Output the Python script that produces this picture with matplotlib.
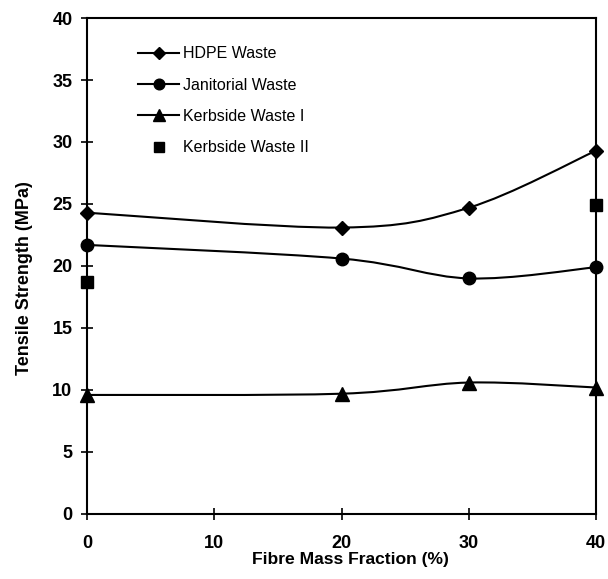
import numpy as np
import matplotlib
matplotlib.use("Agg")
import matplotlib.pyplot as plt
from matplotlib.path import Path
from matplotlib.patches import PathPatch
from matplotlib.lines import Line2D

plt.rcParams["font.family"] = ["Liberation Sans", "DejaVu Sans"]

FIBRE = [0, 20, 30, 40]
HDPE = [24.3, 23.1, 24.7, 29.3]
JANITORIAL = [21.7, 20.6, 19.0, 19.9]
KERBSIDE_I = [9.6, 9.7, 10.6, 10.2]
FIBRE_II = [0, 40]
KERBSIDE_II = [18.7, 24.9]


def smooth_path(xs, ys, t=1 / 6):
    # Catmull-Rom style bezier through the points, like a spreadsheet "smoothed line"
    pts = np.column_stack([xs, ys]).astype(float)
    verts = [pts[0]]
    codes = [Path.MOVETO]
    n = len(pts)
    for i in range(n - 1):
        p0 = pts[max(i - 1, 0)]
        p1 = pts[i]
        p2 = pts[i + 1]
        p3 = pts[min(i + 2, n - 1)]
        c1 = p1 + (p2 - p0) * t
        c2 = p2 - (p3 - p1) * t
        verts += [c1, c2, p2]
        codes += [Path.CURVE4] * 3
    return Path(verts, codes)


fig = plt.figure(figsize=(6.08, 5.79), dpi=100)
ax = fig.add_axes([0.1431, 0.1123, 0.8372, 0.8566])

series = [
    ("HDPE Waste", HDPE, "D", 7.5),
    ("Janitorial Waste", JANITORIAL, "o", 9),
    ("Kerbside Waste I", KERBSIDE_I, "^", 9.5),
]
handles = []
for label, ys, mk, ms in series:
    ax.add_patch(PathPatch(smooth_path(FIBRE, ys), fill=False, lw=1.5,
                           edgecolor="black", clip_on=False))
    ax.plot(FIBRE, ys, ls="none", marker=mk, ms=ms, color="black", clip_on=False)
    handles.append(Line2D([], [], color="black", lw=1.5, marker=mk, ms=ms * 0.85, label=label))

ax.plot(FIBRE_II, KERBSIDE_II, ls="none", marker="s", ms=8.5, color="black", clip_on=False)
handles.append(Line2D([], [], ls="none", marker="s", ms=7.5, color="black",
                      label="Kerbside Waste II"))

ax.set_xlim(0, 40)
ax.set_ylim(0, 40)
ax.set_xticks([0, 10, 20, 30, 40])
ax.set_yticks(range(0, 41, 5))
for s in ax.spines.values():
    s.set_linewidth(1.5)
ax.tick_params(axis="y", direction="inout", length=9, width=1.2, labelsize=13, pad=6)
ax.tick_params(axis="x", direction="inout", length=9, width=1.2, labelsize=13, pad=10.5)
for lbl in ax.get_xticklabels() + ax.get_yticklabels():
    lbl.set_fontweight("bold")

ax.set_xlabel("Fibre Mass Fraction (%)", fontsize=12.6, fontweight="bold")
ax.set_ylabel("Tensile Strength (MPa)", fontsize=13, fontweight="bold")
ax.xaxis.set_label_coords(0.517, -0.0766)
ax.yaxis.set_label_coords(-0.107, 0.476)

ax.legend(handles=handles, loc="upper left", bbox_to_anchor=(0.1, 0.943), frameon=False,
          fontsize=11.5, handlelength=2.6, labelspacing=1.02, handletextpad=0.2,
          borderpad=0, borderaxespad=0)

fig.savefig("out.png", dpi=100)
